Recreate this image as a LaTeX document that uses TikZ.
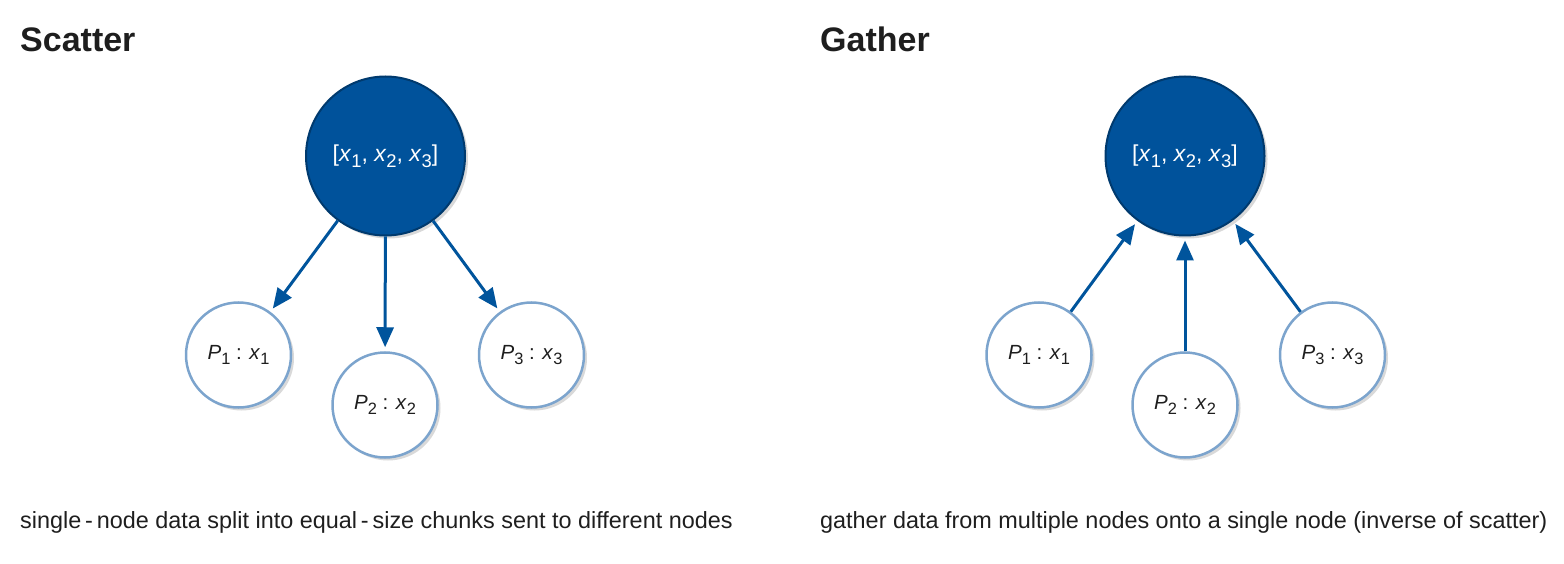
\documentclass[tikz,border=0pt]{standalone}
\usepackage{fontspec}
\setmainfont{Liberation Sans}
\usetikzlibrary{arrows.meta,shadows}
\definecolor{bigfill}{HTML}{00529B}
\definecolor{bigborder}{HTML}{003A6E}
\definecolor{arrowblue}{HTML}{00549C}
\definecolor{smallborder}{HTML}{7CA4CD}
\definecolor{titlecol}{HTML}{1E1E1E}
\newcommand\mysub[2]{\textit{#1}\raisebox{-0.28em}{\scalebox{0.8}{#2}}}
\tikzset{
  bignode/.style={circle, minimum size=159pt, inner sep=0pt, fill=bigfill, draw=bigborder, line width=2pt, text=white, font=\fontsize{23}{27}\selectfont,
    drop shadow={shadow xshift=3pt, shadow yshift=-3pt, opacity=0.25, fill=black!60}},
  smallnode/.style={circle, minimum size=105pt, inner sep=0pt, fill=white, draw=smallborder, line width=2.5pt, text=titlecol, font=\fontsize{20.5}{24}\selectfont,
    drop shadow={shadow xshift=3pt, shadow yshift=-3pt, opacity=0.25, fill=black!60}},
  conn/.style={draw=arrowblue, line width=3pt, -{Triangle[length=20pt,width=17pt]}},
  titletext/.style={anchor=base west, inner sep=0pt, text=titlecol, font=\fontsize{34}{40}\selectfont\bfseries},
  captext/.style={anchor=base west, inner sep=0pt, text=titlecol, font=\fontsize{23.4}{28}\selectfont},
}
\begin{document}
\begin{tikzpicture}[x=1pt,y=-1pt]
\useasboundingbox (0,0) rectangle (1564,564);
% Scatter
\node[titletext] (st) at (20,52) {Scatter};
\node[bignode] (sb) at (385.5,156) {[\mysub{x}{1}, \mysub{x}{2}, \mysub{x}{3}]};
\node[smallnode] (s1) at (238.5,355) {\mysub{P}{1} : \mysub{x}{1}};
\node[smallnode] (s2) at (385,405) {\mysub{P}{2} : \mysub{x}{2}};
\node[smallnode] (s3) at (531.5,355) {\mysub{P}{3} : \mysub{x}{3}};
\draw[conn, shorten >=4pt] (sb) -- (s1);
\draw[conn, shorten >=4pt] (sb) -- (s2);
\draw[conn, shorten >=4pt] (sb) -- (s3);
\node[captext] (sc) at (20,528) {single\,-\,node data split into equal\,-\,size chunks sent to different nodes};
% Gather
\node[titletext] (gt) at (820,52) {Gather};
\node[bignode] (gb) at (1185,156) {[\mysub{x}{1}, \mysub{x}{2}, \mysub{x}{3}]};
\node[smallnode] (g1) at (1039,355) {\mysub{P}{1} : \mysub{x}{1}};
\node[smallnode] (g2) at (1185,405) {\mysub{P}{2} : \mysub{x}{2}};
\node[smallnode] (g3) at (1332.5,355) {\mysub{P}{3} : \mysub{x}{3}};
\draw[conn, shorten >=4pt] (g1) -- (gb);
\draw[conn, shorten >=4pt] (g2) -- (gb);
\draw[conn, shorten >=4pt] (g3) -- (gb);
\node[captext] (gc) at (820,528) {gather data from multiple nodes onto a single node (inverse of scatter)};
\end{tikzpicture}
\end{document}
